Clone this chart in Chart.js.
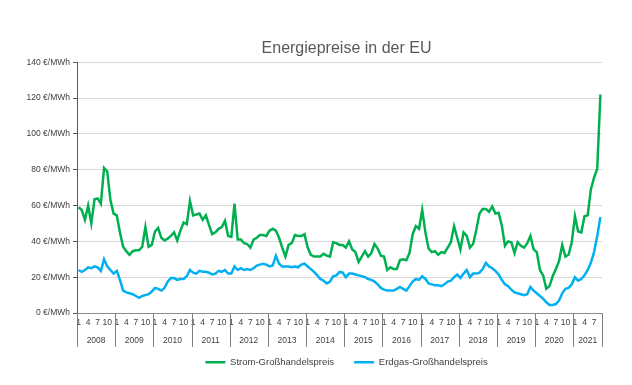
<!DOCTYPE html>
<html>
<head>
<meta charset="utf-8">
<script src="https://cdn.jsdelivr.net/npm/chart.js@4.4.0/dist/chart.umd.min.js"></script>
<style>
  html, body { margin: 0; padding: 0; background: #fff; }
  #wrap { width: 632px; height: 385px; }
</style>
</head>
<body>
<div id="wrap"><canvas id="chart_line" width="632" height="385"></canvas></div>
<script>
// years shown on the axis and how many months each one has in the data
let years = ['2008', '2009', '2010', '2011', '2012', '2013', '2014', '2015', '2016', '2017', '2018', '2019', '2020', '2021'];
let monthsPerYear = [12, 12, 12, 12, 12, 12, 12, 12, 12, 12, 12, 12, 12, 9];
let monthTicks = ['1', '4', '7', '10'];

// €/MWh, monthly, Jan 2008 - Sep 2021
let strom = [
    59, 57.5, 52, 60, 50, 63.5, 64, 61, 81, 79, 63, 55.5,
    54.5, 45, 37, 34.5, 32.5, 34.5, 35, 35, 37, 48, 37, 38,
    45.5, 47.5, 42, 40.5, 41.5, 43, 45, 40.5, 46, 50.5, 49.5, 62.5,
    54.5, 55, 55.5, 52, 54.5, 49, 44, 45, 47, 48, 51.5, 43,
    42.5, 61, 41, 41, 39, 38.5, 36.5, 41, 42, 43.5, 43.5, 43,
    46, 47, 46, 42, 36.5, 31.5, 38, 39, 43.5, 43, 43, 44,
    36.5, 32.5, 31.5, 31.5, 31.5, 33, 32, 31.5, 39.5, 39, 38, 38,
    36.5, 40, 35.5, 34, 28.5, 31.5, 34.5, 31.5, 33.5, 38.5, 36, 32,
    31.5, 24, 25.5, 24.5, 24.5, 29.5, 30, 29.5, 33.5, 44, 48.5, 47,
    57.5, 45, 36, 34, 34.5, 32.5, 34, 33.5, 36.5, 39.5, 48.5, 42,
    35.5, 45, 43, 36.5, 38.5, 46.5, 55.5, 58, 58, 56.5, 59.5, 55.5,
    56, 49, 37.5, 40, 39.5, 33.5, 39.5, 37.5, 36.5, 39, 43, 35.5,
    34, 24, 21, 13.5, 15, 20.5, 24.5, 29, 38, 31.5, 32.5, 39.5,
    54, 45.5, 45, 54, 54.5, 69, 75.5, 80.5, 122
];
let erdgas = [
    24, 23, 24, 25.5, 25, 26, 25.5, 23.5, 30, 26, 24, 22,
    23.5, 18.5, 12.5, 11.5, 11, 10.5, 9.5, 8.5, 9.5, 10, 10.5, 12,
    14, 13.5, 12.5, 14, 17.5, 19.5, 19.5, 18.5, 19, 19, 20.5, 24,
    22.5, 22, 23.5, 23, 23, 22.5, 21.5, 22, 23.5, 23, 24, 22,
    22, 26, 24, 25, 24, 24.5, 24, 25, 26.5, 27, 27.5, 27,
    26, 26.5, 32, 27.5, 26, 26, 26, 25.5, 26, 25.5, 27, 27.5,
    26, 24.5, 23, 21, 19, 18, 16.5, 17.5, 20.5, 21, 23, 22.5,
    20, 22, 22, 21.5, 21, 20.5, 20, 19, 18.5, 17.5, 16, 14,
    13, 12.5, 12.5, 12.5, 13.5, 14.5, 13.5, 12.5, 15, 17.5, 19, 18.5,
    20.5, 19, 16.5, 16, 15.5, 15.5, 15, 16, 17.5, 18, 20, 21.5,
    19.5, 22, 24, 20, 22, 22, 22.5, 24.5, 28, 26, 25, 23.5,
    21.5, 18.5, 16, 15, 13, 11.5, 11, 10.5, 10, 10.5, 14.5, 12.5,
    11, 9.5, 8, 6, 4.5, 4.5, 5, 7, 11, 13.5, 14, 16,
    20, 18, 19, 21, 24, 28, 34, 43, 53.5
];

let labels = [];
years.forEach((yr, i) => {
    for (let m = 1; m <= monthsPerYear[i]; m++) labels.push(yr + '-' + m);
});

const textColor = '#404040';
const fontName = '"Liberation Sans", Arial, sans-serif';

// year row + separators under the month ticks
const yearAxis = {
    id: 'yearAxis',
    afterLayout(chart) {
        // title and legend sit a bit right of the plot centre in the original
        [chart.titleBlock, chart.legend].forEach(b => {
            if (b) { b.left += 7; b.right += 7; }
        });
    },
    afterDraw(chart) {
        const x = chart.scales.x;
        const ctx = chart.ctx;
        const w = x.getPixelForValue(1) - x.getPixelForValue(0);
        const top = x.top;
        const bottom = x.top + 34;
        ctx.save();
        ctx.strokeStyle = '#808080';
        ctx.lineWidth = 1;
        ctx.fillStyle = textColor;
        ctx.font = '8.5px ' + fontName;
        ctx.textAlign = 'center';
        ctx.textBaseline = 'middle';
        let start = 0;
        years.forEach((yr, i) => {
            const n = monthsPerYear[i];
            const left = x.getPixelForValue(start) - w / 2;
            const right = x.getPixelForValue(start + n - 1) + w / 2;
            ctx.beginPath();
            ctx.moveTo(Math.round(left) + 0.5, top);
            ctx.lineTo(Math.round(left) + 0.5, bottom);
            if (i === years.length - 1) {
                ctx.moveTo(Math.round(right) + 0.5, top);
                ctx.lineTo(Math.round(right) + 0.5, bottom);
            }
            ctx.stroke();
            ctx.fillText(yr, (left + right) / 2, top + 28);
            start += n;
        });
        ctx.restore();
    }
};

let ctx_line = document.getElementById('chart_line');

let chart_line = new Chart(ctx_line, {
    type: 'line',
    data: {
        labels: labels,
        datasets: [{
            label: 'Strom-Großhandelspreis',
            data: strom,
            borderColor: '#00b050',
            backgroundColor: '#00b050',
            borderWidth: 2.5,
            pointRadius: 0,
            tension: 0
        }, {
            label: 'Erdgas-Großhandelspreis',
            data: erdgas,
            borderColor: '#00b0f0',
            backgroundColor: '#00b0f0',
            borderWidth: 2.5,
            pointRadius: 0,
            tension: 0
        }]
    },
    options: {
        maintainAspectRatio: false,
        responsive: false,
        animation: false,
        layout: { padding: { left: 0, right: 30, top: 0, bottom: 8 } },
        plugins: {
            title: {
                display: true,
                text: 'Energiepreise in der EU',
                fullSize: false,
                color: '#595959',
                font: { family: fontName, size: 16, weight: 'normal' },
                padding: { top: 39, bottom: 4 }
            },
            legend: {
                position: 'bottom',
                fullSize: false,
                labels: {
                    usePointStyle: true,
                    pointStyle: 'line',
                    pointStyleWidth: 20,
                    boxHeight: 3,
                    color: textColor,
                    padding: 20,
                    font: { family: fontName, size: 9.5 }
                }
            },
            tooltip: { enabled: false }
        },
        scales: {
            x: {
                offset: true,
                grid: { display: false, drawTicks: false },
                border: { display: true, color: '#8c8c8c' },
                ticks: {
                    autoSkip: false,
                    maxRotation: 0,
                    minRotation: 0,
                    padding: 5,
                    color: textColor,
                    font: { family: fontName, size: 8.5 },
                    callback: function (value, index) {
                        let m = String(labels[index].split('-')[1]);
                        return monthTicks.includes(m) ? m : '';
                    }
                },
                afterFit: function (scale) { scale.height = 24.5; }
            },
            y: {
                min: 0,
                max: 140,
                grid: { color: '#d9d9d9', tickColor: '#595959', tickLength: 4 },
                border: { display: true, color: '#595959' },
                ticks: {
                    stepSize: 20,
                    padding: 3,
                    color: textColor,
                    font: { family: fontName, size: 8.5 },
                    callback: function (v) { return v + ' €/MWh'; }
                },
                afterFit: function (scale) { scale.width = 77; }
            }
        }
    },
    plugins: [yearAxis]
});
</script>
</body>
</html>
